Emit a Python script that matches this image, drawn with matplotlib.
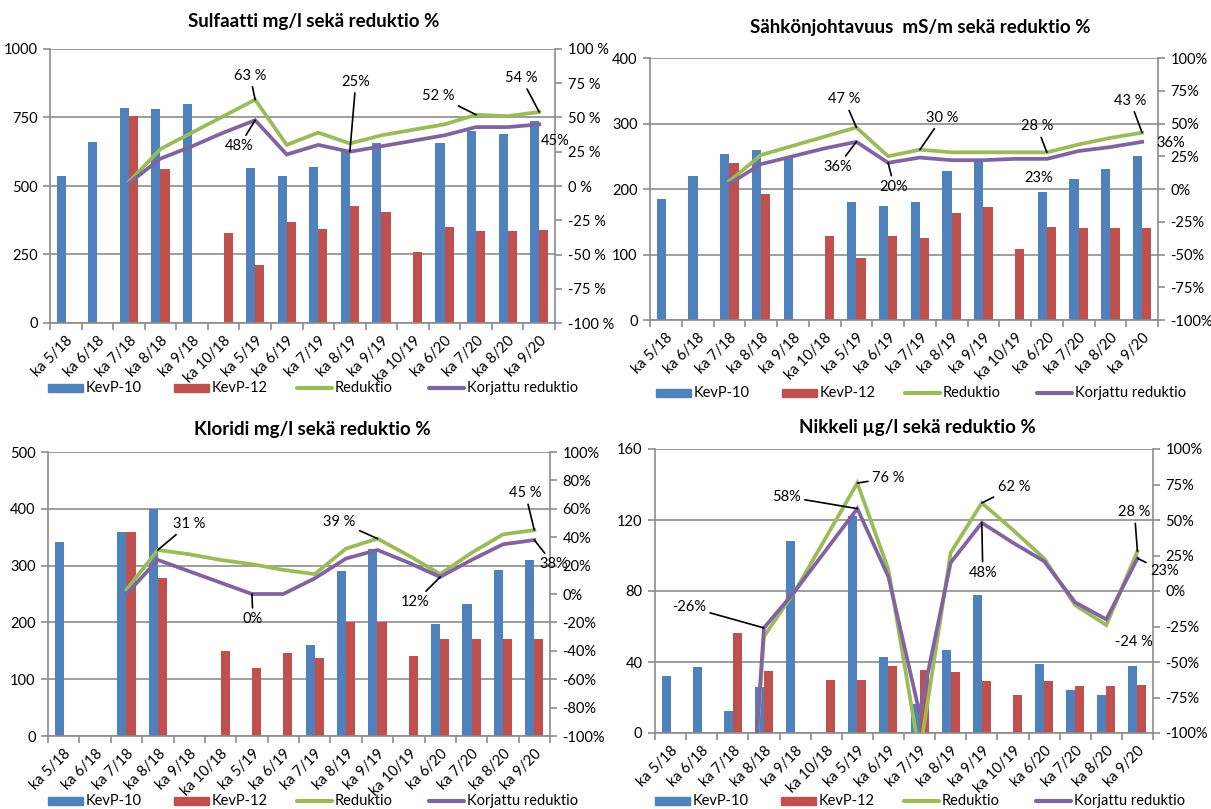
import numpy as np
import matplotlib
matplotlib.use("Agg")
import matplotlib.pyplot as plt
from matplotlib.patches import Rectangle
from matplotlib.lines import Line2D
from matplotlib.ticker import FuncFormatter, FixedLocator

plt.rcParams['font.family'] = ['Lato', 'DejaVu Sans']

nan = np.nan

categories = ["ka 5/18", "ka 6/18", "ka 7/18", "ka 8/18", "ka 9/18", "ka 10/18",
              "ka 5/19", "ka 6/19", "ka 7/19", "ka 8/19", "ka 9/19", "ka 10/19",
              "ka 6/20", "ka 7/20", "ka 8/20", "ka 9/20"]
series_names = ["KevP-10", "KevP-12", "Reduktio", "Korjattu reduktio"]

# Sulfaatti mg/l
sulf_kevp10 = [535, 660, 785, 780, 800, nan, 565, 535, 568, 630, 658, nan, 658, 700, 690, 738]
sulf_kevp12 = [nan, nan, 757, 563, nan, 328, 210, 370, 344, 428, 405, 259, 352, 337, 337, 340]
sulf_red = [nan, nan, 3, 27, 39, 51, 63, 30, 39, 31, 37, 41, 45, 52, 51, 54]
sulf_kor = [nan, nan, 2, 20, 29, 39, 48, 23, 30, 25, 29, 33, 37, 43, 43, 45]

# Sähkönjohtavuus mS/m
sahko_kevp10 = [185, 220, 254, 259, 248, nan, 180, 174, 180, 227, 243, nan, 196, 215, 230, 250]
sahko_kevp12 = [nan, nan, 239, 193, nan, 129, 95, 129, 125, 163, 172, 109, 142, 141, 141, 141]
sahko_red = [nan, nan, 6, 26, 33, 40, 47, 25, 30, 28, 28, 28, 28, 34, 39, 43]
sahko_kor = [nan, nan, 4, 19, 25, 31, 36, 20, 24, 22, 22, 23, 23, 29, 32, 36]

# Kloridi mg/l
klor_kevp10 = [341, nan, 360, 400, nan, nan, nan, nan, 160, 291, 330, nan, 197, 233, 293, 310]
klor_kevp12 = [nan, nan, 360, 279, nan, 150, 120, 146, 138, 200, 200, 140, 170, 170, 170, 170]
klor_red = [nan, nan, 3, 31, 28, 24, 21, 17, 14, 32, 39, 27, 14, 29, 42, 45]
klor_kor = [nan, nan, 0, 24, 16, 8, 0, 0, 11, 25, 31, 22, 12, 24, 35, 38]

# Nikkeli µg/l
nikk_kevp10 = [32, 37, 12.5, 26, 108, nan, 122, 43, 16.5, 46.5, 77.5, nan, 39, 24, 21.5, 37.5]
nikk_kevp12 = [nan, nan, 56.5, 35, nan, 30, 30, 38, 35.5, 34.5, 29.5, 21.5, 29.5, 26.5, 26.5, 27]
nikk_red = [nan, nan, -350, -32, 0, 38, 76, 15, -115, 27, 62, 43, 23, -10, -24, 28]
nikk_kor = [nan, nan, -355, -26, 0, 29, 58, 10, -86, 20, 48, 34, 21, -8, -20, 23]

BLUE = "#4F81BD"
RED = "#C0504D"
GREEN = "#9BBB59"
PURPLE = "#8064A2"
GRID = "#8C8C8C"
COLORS = [BLUE, RED, GREEN, PURPLE]

W, H = 1211, 809
fig = plt.figure(figsize=(W / 100, H / 100), dpi=100)


def fx(px):
    return px / W


def fy(py):
    return 1 - py / H


def px_axes(left, top, right, bottom):
    return fig.add_axes([fx(left), fy(bottom), (right - left) / W, (bottom - top) / H])


def legend_row(x0, y0):
    # one row of legend entries below a chart, in figure pixels
    offsets = [0, 126, 249, 381]
    hw = 35
    for k, (off, name, col) in enumerate(zip(offsets, series_names, COLORS)):
        xs = x0 + off
        if k < 2:
            fig.add_artist(Rectangle((fx(xs), fy(y0 + 4)), hw / W, 8 / H,
                                     transform=fig.transFigure, color=col))
        else:
            fig.add_artist(Line2D([fx(xs), fx(xs + hw)], [fy(y0), fy(y0)],
                                  transform=fig.transFigure, color=col, lw=3,
                                  solid_capstyle="round"))
        fig.text(fx(xs + hw + 3), fy(y0), name, ha="left", va="center", fontsize=10.5)


def panel(rect, title, title_xy, kevp10, kevp12, red, kor, ymax, ystep, pstep,
          pct_space, notes, legend_xy):
    ax = px_axes(*rect)
    x = np.arange(len(categories))
    w = 0.29
    ax.bar(x - w / 2, kevp10, w, color=BLUE, zorder=2)
    ax.bar(x + w / 2, kevp12, w, color=RED, zorder=2)
    ax.set_xlim(-0.5, len(categories) - 0.5)
    ax.set_ylim(0, ymax)
    ax.set_yticks(np.arange(0, ymax + 0.1, ystep))
    ax.yaxis.grid(True, color=GRID, lw=1.2, zorder=0)
    ax.set_axisbelow(True)
    for s in ("top", "right"):
        ax.spines[s].set_visible(False)
    for s in ("left", "bottom"):
        ax.spines[s].set_color(GRID)
        ax.spines[s].set_linewidth(1.2)
    ax.set_xticks(x)
    ax.set_xticklabels(categories, rotation=45, ha="right", rotation_mode="anchor",
                       fontsize=10.5)
    ax.tick_params(axis="x", which="major", length=0, pad=8)
    ax.xaxis.set_minor_locator(FixedLocator(np.arange(-0.5, len(categories), 1.0)))
    ax.tick_params(axis="x", which="minor", length=5, color=GRID, width=1.2)
    ax.tick_params(axis="y", length=5, color=GRID, width=1.2, labelsize=10.5, pad=4)

    ax2 = ax.twinx()
    ax2.set_ylim(-100, 100)
    ax2.set_yticks(np.arange(-100, 100.1, pstep))
    sep = " %" if pct_space else "%"
    ax2.yaxis.set_major_formatter(FuncFormatter(lambda v, p: f"{v:.0f}{sep}"))
    for s in ("top", "left", "bottom"):
        ax2.spines[s].set_visible(False)
    ax2.spines["right"].set_color(GRID)
    ax2.spines["right"].set_linewidth(1.2)
    ax2.tick_params(axis="y", length=5, color=GRID, width=1.2, labelsize=10.5, pad=4)

    red = np.asarray(red, float)
    kor = np.asarray(kor, float)
    m = ~np.isnan(red)
    ax2.plot(x[m], red[m], color=GREEN, lw=2.7, zorder=3, solid_joinstyle="miter")
    m = ~np.isnan(kor)
    ax2.plot(x[m], kor[m], color=PURPLE, lw=2.7, zorder=4, solid_joinstyle="miter")

    series = {"red": red, "kor": kor}
    for key, i, dx, dy, space, leader in notes:
        v = series[key][i]
        txt = f"{v:.0f}{' %' if space else '%'}"
        kw = {}
        if leader:
            kw["arrowprops"] = dict(arrowstyle="-", color="black", lw=1.2,
                                    shrinkA=1, shrinkB=0)
        ax2.annotate(txt, xy=(i, v), xytext=(dx, dy), textcoords="offset pixels",
                     ha="center", va="center", fontsize=10.5, zorder=6,
                     annotation_clip=False, **kw)

    fig.text(fx(title_xy[0]), fy(title_xy[1]), title, ha="center", va="center",
             fontsize=13.5, fontweight="bold")
    legend_row(*legend_xy)
    return ax, ax2


panel((50, 49, 555, 323), "Sulfaatti mg/l sekä reduktio %", (314, 22),
      sulf_kevp10, sulf_kevp12, sulf_red, sulf_kor, 1000, 250, 25, True,
      [("red", 6, -5, 24, True, True),
       ("kor", 6, -16, -26, False, True),
       ("kor", 9, 6, 70, False, True),
       ("red", 13, -38, 19, True, True),
       ("red", 15, -18, 34, True, True),
       ("kor", 15, 16, -17, False, False)],
      (48, 388))

panel((650, 58, 1158, 320), "Sähkönjohtavuus  mS/m sekä reduktio %", (920, 27),
      sahko_kevp10, sahko_kevp12, sahko_red, sahko_kor, 400, 100, 25, False,
      [("red", 6, -12, 28, True, True),
       ("kor", 6, -19, -25, False, True),
       ("kor", 7, 6, -24, False, True),
       ("red", 8, 22, 32, True, True),
       ("red", 12, -10, 26, True, True),
       ("kor", 12, -8, -19, False, False),
       ("red", 15, -12, 32, True, True),
       ("kor", 15, 29, -1, False, False)],
      (656, 393))

panel((48, 452, 550, 736), "Kloridi mg/l sekä reduktio %", (312, 430),
      klor_kevp10, klor_kevp12, klor_red, klor_kor, 500, 100, 20, False,
      [("red", 3, 31, 26, True, True),
       ("kor", 6, 1, -25, False, True),
       ("red", 10, -38, 17, True, True),
       ("kor", 12, -25, -25, False, True),
       ("red", 15, -9, 37, True, True),
       ("kor", 15, 19, -24, False, True)],
      (48, 801))

panel((655, 449, 1153, 733), "Nikkeli µg/l sekä reduktio %", (917, 427),
      nikk_kevp10, nikk_kevp12, nikk_red, nikk_kor, 160, 40, 25, False,
      [("red", 6, 31, 5, True, True),
       ("kor", 6, -71, 12, False, True),
       ("kor", 3, -75, 21, False, True),
       ("red", 10, 32, 16, True, True),
       ("kor", 10, 1, -50, False, True),
       ("red", 15, -3, 39, True, True),
       ("kor", 15, 27, -13, False, True),
       ("red", 14, 28, -17, True, False)],
      (655, 801))

fig.savefig("out.png", dpi=100, facecolor="white")
